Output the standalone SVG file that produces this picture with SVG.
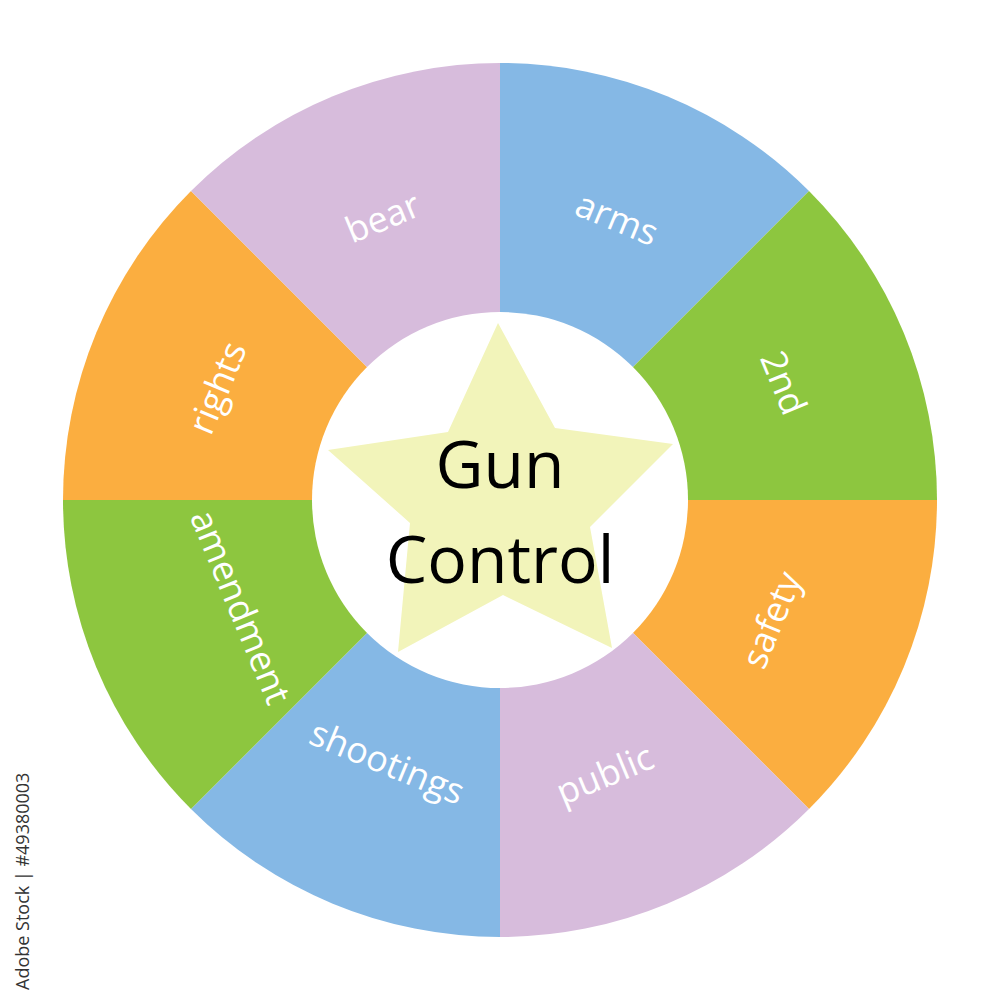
<svg xmlns="http://www.w3.org/2000/svg" width="1000" height="1000" viewBox="0 0 1000 1000">
  <style>
    .lbl { font-family: "Open Sans", "Liberation Sans", sans-serif; font-size: 36px; fill: #ffffff; text-anchor: middle; }
    .title { font-family: "Open Sans", "Liberation Sans", sans-serif; font-size: 66px; fill: #000000; text-anchor: middle; }
    .blue { fill: #85B8E5; }
    .green { fill: #8DC63F; }
    .orange { fill: #FBAE40; }
    .lav { fill: #D7BCDC; }
  </style>
  <rect width="1000" height="1000" fill="#ffffff"/>
  <g id="arms">
    <path class="blue" d="M500,500 L500,63 A437,437 0 0 1 809,191 Z"/>
    <text class="lbl" transform="translate(616,221) rotate(22.5)" y="10">arms</text>
  </g>
  <g id="second">
    <path class="green" d="M500,500 L809,191 A437,437 0 0 1 937,500 Z"/>
    <text class="lbl" transform="translate(783,383) rotate(67.5)" y="12">2nd</text>
  </g>
  <g id="safety">
    <path class="orange" d="M500,500 L937,500 A437,437 0 0 1 809,809 Z"/>
    <text class="lbl" transform="translate(772,620) rotate(-67.5)" y="12">safety</text>
  </g>
  <g id="public">
    <path class="lav" d="M500,500 L809,809 A437,437 0 0 1 500,937 Z"/>
    <text class="lbl" transform="translate(605,775) rotate(-22.5)" y="12">public</text>
  </g>
  <g id="shootings">
    <path class="blue" d="M500,500 L500,937 A437,437 0 0 1 191,809 Z"/>
    <text class="lbl" transform="translate(387,763) rotate(22.5)" y="12">shootings</text>
  </g>
  <g id="amendment">
    <path class="green" d="M500,500 L191,809 A437,437 0 0 1 63,500 Z"/>
    <text class="lbl" transform="translate(240,607) rotate(67.5)" y="12">amendment</text>
  </g>
  <g id="rights">
    <path class="orange" d="M500,500 L63,500 A437,437 0 0 1 191,191 Z"/>
    <text class="lbl" transform="translate(218,388) rotate(-67.5)" y="12">rights</text>
  </g>
  <g id="bear">
    <path class="lav" d="M500,500 L191,191 A437,437 0 0 1 500,63 Z"/>
    <text class="lbl" transform="translate(383,218) rotate(-22.5)" y="12">bear</text>
  </g>
  <g id="center">
    <circle cx="500" cy="500" r="188" fill="#ffffff"/>
    <polygon fill="#F2F4BA" points="498,323 555,428 673,444 590,527 612,648 503,595 398,652 410,523 328,450 448,432"/>
    <text class="title" x="500" y="488">Gun</text>
    <text class="title" x="500" y="583">Control</text>
  </g>
  <g id="connectors"/>
  <text transform="translate(29,990) rotate(-90)" font-family="Open Sans, Liberation Sans, sans-serif" font-size="18" fill="#333333">Adobe Stock | #49380003</text>
</svg>
